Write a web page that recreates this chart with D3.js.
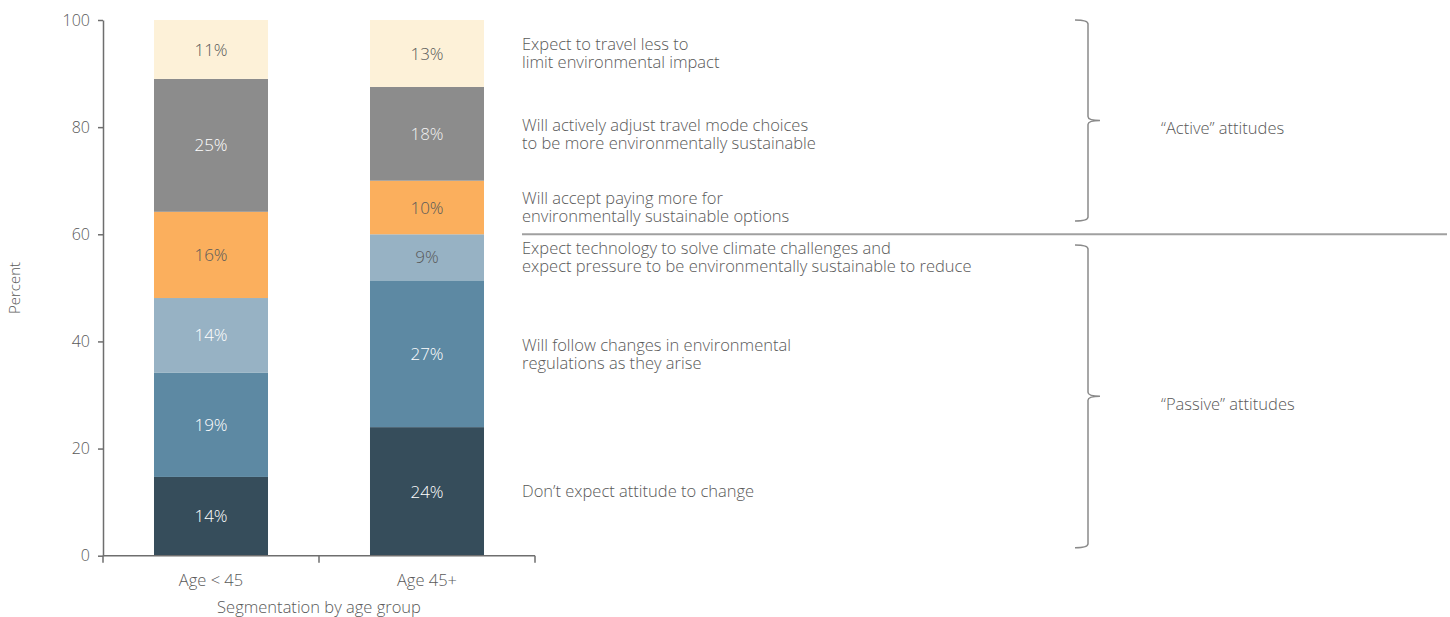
<!DOCTYPE html>
<html>
<head>
<meta charset="utf-8">
<script src="https://cdn.jsdelivr.net/npm/d3@7"></script>
<style>
  body { margin: 0; background: #fff; }
  svg text { font-family: "Open Sans", "Noto Sans", sans-serif; font-weight: 300; }
</style>
</head>
<body>
<div id="chart"></div>
<script>
// categories and stacked series (bottom to top)
var categories = ['Age < 45', 'Age 45+']
var seriesNames = [
  ["Don\u2019t expect attitude to change"],
  ['Will follow changes in environmental', 'regulations as they arise'],
  ['Expect technology to solve climate challenges and', 'expect pressure to be environmentally sustainable to reduce'],
  ['Will accept paying more for', 'environmentally sustainable options'],
  ['Will actively adjust travel mode choices', 'to be more environmentally sustainable'],
  ['Expect to travel less to', 'limit environmental impact']
]
var valuesYoung = [14.7, 19.5, 13.9, 16.1, 24.8, 11.0]
var valuesOld = [24.0, 27.4, 8.6, 10.0, 17.5, 12.5]
var labelsYoung = ['14%', '19%', '14%', '16%', '25%', '11%']
var labelsOld = ['24%', '27%', '9%', '10%', '18%', '13%']
var yTicks = [0, 20, 40, 60, 80, 100]
var groups = [
  { name: '\u201CActive\u201D attitudes', from: 62.5, to: 100 },
  { name: '\u201CPassive\u201D attitudes', from: 1.5, to: 58 }
]
var dividerAt = 60

var colors = ['#364d5b', '#5d89a3', '#97b2c4', '#fbaf5d', '#8c8c8c', '#fdf1d8']
var textColors = [
  ['#ffffff', '#ffffff', '#ffffff', '#595959', '#ffffff', '#595959'],
  ['#ffffff', '#ffffff', '#595959', '#595959', '#f2f2f2', '#595959']
]

var width = 1450
var height = 617
var axisColor = '#6e6e6e'
var textColor = '#595959'

var svg = d3.select('#chart').append('svg')
  .attr('width', width)
  .attr('height', height)

var y = d3.scaleLinear().domain([0, 100]).range([555.7, 20])
var x = d3.scaleBand().domain(categories).range([103, 535])
  .paddingInner(0.4722).paddingOuter(0.2361)

// stack data
var rows = categories.map(function (c, i) {
  var vals = i === 0 ? valuesYoung : valuesOld
  var row = { cat: c }
  vals.forEach(function (v, j) { row['s' + j] = v })
  return row
})
var keys = seriesNames.map(function (d, j) { return 's' + j })
var stacked = d3.stack().keys(keys)(rows)

// bars
var layer = svg.selectAll('g.layer')
  .data(stacked)
  .enter()
  .append('g')
  .attr('class', 'layer')
  .attr('fill', function (d, j) { return colors[j] })

layer.selectAll('rect')
  .data(function (d) { return d })
  .enter()
  .append('rect')
  .attr('x', function (d) { return x(d.data.cat) })
  .attr('y', function (d) { return y(d[1]) })
  .attr('width', x.bandwidth())
  .attr('height', function (d) { return y(d[0]) - y(d[1]) })

// segment labels
stacked.forEach(function (s, j) {
  s.forEach(function (d, i) {
    var lab = i === 0 ? labelsYoung[j] : labelsOld[j]
    svg.append('text')
      .attr('x', x(d.data.cat) + x.bandwidth() / 2)
      .attr('y', (y(d[0]) + y(d[1])) / 2)
      .attr('dy', '0.36em')
      .attr('text-anchor', 'middle')
      .attr('font-size', '17px')
      .attr('fill', textColors[i][j])
      .text(lab)
  })
})

// y axis
var yAxis = svg.append('g')
  .attr('transform', 'translate(103,0)')
  .call(d3.axisLeft(y).tickValues(yTicks).tickSize(5).tickSizeOuter(0).tickPadding(8))
yAxis.select('.domain').attr('stroke', axisColor).attr('stroke-width', 1.5)
yAxis.selectAll('.tick line').attr('stroke', axisColor).attr('stroke-width', 1.5)
yAxis.selectAll('.tick text').attr('fill', textColor).attr('font-size', '16px')
  .style('font-family', '"Open Sans", sans-serif')

// x axis: line with ticks between categories
var step = x.step()
var boundaries = [x.range()[0]].concat(categories.map(function (c) {
  return x(c) + x.bandwidth() / 2 + step / 2
}))
svg.append('line')
  .attr('x1', 103).attr('x2', 535)
  .attr('y1', y(0)).attr('y2', y(0))
  .attr('stroke', axisColor).attr('stroke-width', 1.5)
svg.selectAll('line.xtick')
  .data(boundaries)
  .enter()
  .append('line')
  .attr('class', 'xtick')
  .attr('x1', function (d) { return d }).attr('x2', function (d) { return d })
  .attr('y1', y(0)).attr('y2', y(0) + 7)
  .attr('stroke', axisColor).attr('stroke-width', 1.5)
svg.selectAll('text.xlab')
  .data(categories)
  .enter()
  .append('text')
  .attr('class', 'xlab')
  .attr('x', function (d) { return x(d) + x.bandwidth() / 2 })
  .attr('y', 586)
  .attr('text-anchor', 'middle')
  .attr('font-size', '16.5px')
  .attr('fill', textColor)
  .text(function (d) { return d })

svg.append('text')
  .attr('x', 319).attr('y', 613)
  .attr('text-anchor', 'middle')
  .attr('font-size', '16.5px')
  .attr('fill', textColor)
  .text('Segmentation by age group')

svg.append('text')
  .attr('transform', 'translate(20,288) rotate(-90)')
  .attr('text-anchor', 'middle')
  .attr('font-size', '15px')
  .attr('fill', textColor)
  .text('Percent')

// series descriptions, centred on the Age 45+ segments
var last = categories.length - 1
stacked.forEach(function (s, j) {
  var d = s[last]
  var cy = (y(d[0]) + y(d[1])) / 2
  var lines = seriesNames[j]
  var lh = 18
  var t = svg.append('text')
    .attr('x', 522)
    .attr('y', cy - (lines.length - 1) * lh / 2)
    .attr('font-size', '16.5px')
    .attr('fill', textColor)
  lines.forEach(function (l, k) {
    t.append('tspan').attr('x', 522).attr('dy', k === 0 ? '0.36em' : lh).text(l)
  })
})

// divider between active and passive
svg.append('line')
  .attr('x1', 522).attr('x2', 1447)
  .attr('y1', y(dividerAt)).attr('y2', y(dividerAt))
  .attr('stroke', '#a0a0a0').attr('stroke-width', 2)

// braces and group labels
groups.forEach(function (g) {
  var top = y(g.to)
  var bot = y(g.from)
  var mid = (top + bot) / 2
  var bx = 1088
  var p = 'M1075,' + top + ' Q' + bx + ',' + top + ' ' + bx + ',' + (top + 4) +
    ' L' + bx + ',' + (mid - 4) + ' Q' + bx + ',' + mid + ' ' + (bx + 12) + ',' + mid +
    ' Q' + bx + ',' + mid + ' ' + bx + ',' + (mid + 4) +
    ' L' + bx + ',' + (bot - 4) + ' Q' + bx + ',' + bot + ' 1075,' + bot
  svg.append('path')
    .attr('d', p)
    .attr('fill', 'none')
    .attr('stroke', '#8a8a8a')
    .attr('stroke-width', 1.5)
  svg.append('text')
    .attr('x', 1161)
    .attr('y', mid + 8)
    .attr('dy', '0.36em')
    .attr('font-size', '16.5px')
    .attr('fill', textColor)
    .text(g.name)
})
</script>
</body>
</html>
